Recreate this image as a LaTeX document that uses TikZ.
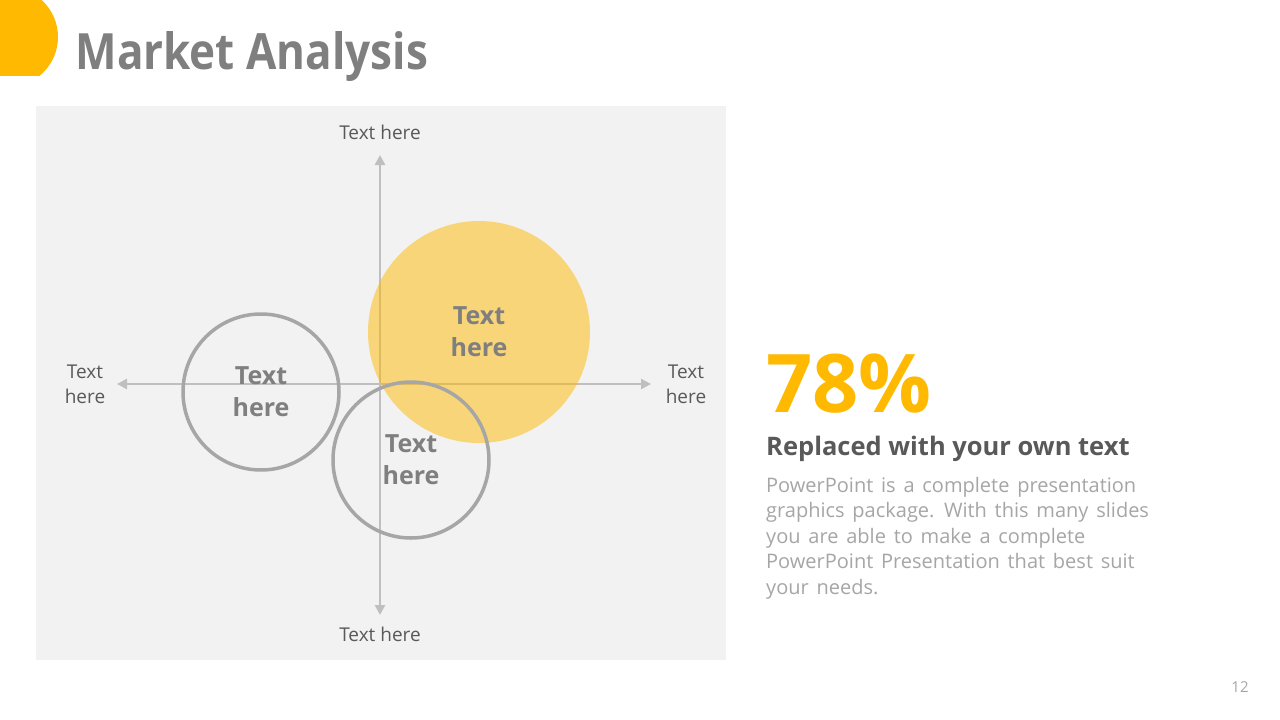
\documentclass[tikz,border=0pt]{standalone}
\usepackage{fontspec}
\setmainfont{Open Sans}
\newfontfamily\narrowfont[FakeStretch=0.88]{Open Sans}
\newfontfamily\bodyfont[WordSpace=1.5]{Open Sans}
\usetikzlibrary{arrows.meta}
\definecolor{gold}{HTML}{FFB900}
\definecolor{panel}{HTML}{F2F2F2}
\definecolor{axisgray}{HTML}{BFBFBF}
\definecolor{ringgray}{HTML}{A6A6A6}
\definecolor{labelgray}{HTML}{595959}
\definecolor{titlegray}{HTML}{7F7F7F}

\begin{document}
\begin{tikzpicture}[x=1pt, y=-1pt,
  axis/.style = {draw=axisgray, line width=2.5pt,
    {Triangle[length=10pt,width=10pt]}-{Triangle[length=10pt,width=10pt]}},
  ring/.style = {circle, draw=ringgray, line width=3.5pt,
    minimum size=156pt, inner sep=0pt, align=center,
    font=\bfseries\fontsize{25}{32}\selectfont, text=titlegray},
  axislabel/.style = {align=center, font=\fontsize{19}{25}\selectfont,
    text=labelgray}]
  \useasboundingbox (0,0) rectangle (1280,720);
  \fill[white] (0,0) rectangle (1280,720);
  % corner mark
  \begin{scope}
    \clip (0,0) rectangle (80,75);
    \fill[gold] (8,37) circle (50);
  \end{scope}
  \node[anchor=base west, font=\narrowfont\bfseries\fontsize{50}{60}\selectfont,
    text=titlegray] (title) at (72,69) {Market Analysis};

  % matrix panel
  \fill[panel] (36,106) rectangle (726,660);
  \coordinate (top) at (380,155);
  \coordinate (bot) at (380,615);
  \coordinate (lft) at (117,384);
  \coordinate (rgt) at (651,384);
  \draw[axis] (bot) -- (top);
  \draw[axis] (lft) -- (rgt);

  \node[circle, fill=gold, fill opacity=0.5, minimum size=222pt, inner sep=0pt,
    align=center, text opacity=1, text=titlegray,
    font=\bfseries\fontsize{25}{32}\selectfont] (big) at (479,332) {Text\\here};
  \node[ring] (left) at (261,392) {Text\\here};
  \node[ring] (low) at (411,460) {Text\\here};

  \node[axislabel] (ltop) at (380,132) {Text here};
  \node[axislabel] (lbot) at (380,634) {Text here};
  \node[axislabel] (llft) at (85,384) {Text\\here};
  \node[axislabel] (lrgt) at (686,384) {Text\\here};

  % right column
  \node[anchor=base west, inner sep=0pt, font=\bfseries\fontsize{81}{90}\selectfont,
    text=gold] (pct) at (766,412) {78\%};
  \node[anchor=base west, inner sep=0pt, font=\bfseries\fontsize{25.5}{30}\selectfont,
    text=labelgray] (head) at (766,455) {Replaced with your own text};
  \node[anchor=north west, inner sep=0pt, align=left,
    font=\bodyfont\fontsize{20}{25.5}\selectfont, text=ringgray] (body) at (766,477)
    {PowerPoint is a complete presentation\\
     graphics package. With this many slides\\
     you are able to make a complete\\
     PowerPoint Presentation that best suit\\
     your needs.};

  \node[font=\fontsize{15}{18}\selectfont, text=ringgray] (page) at (1240,687) {12};
\end{tikzpicture}
\end{document}
